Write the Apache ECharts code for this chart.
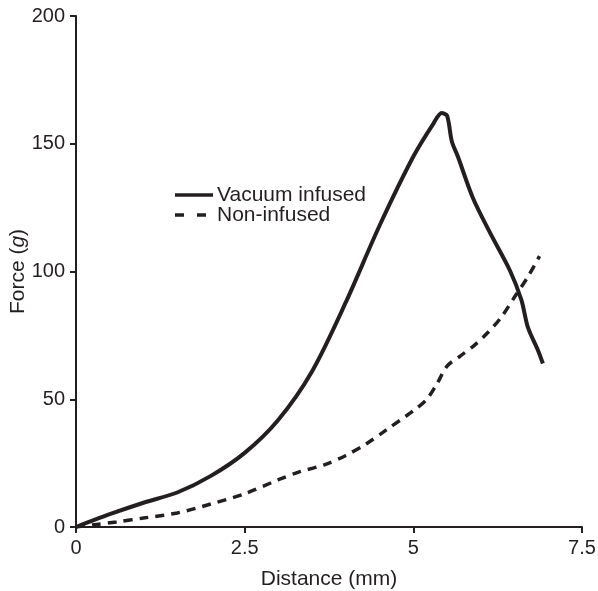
<!DOCTYPE html>
<html>
<head>
<meta charset="utf-8">
<script src="https://cdn.jsdelivr.net/npm/echarts@6/dist/echarts.min.js"></script>
<style>html,body{margin:0;padding:0;background:#fff}#c{width:598px;height:591px}</style>
</head>
<body>
<div id="c"></div>
<script>
const xTicks = [0, 2.5, 5, 7.5];
const yTicks = [0, 50, 100, 150, 200];
const seriesNames = ['Vacuum infused', 'Non-infused'];
const vacuumX = [0, 0.5, 1, 1.5, 2, 2.5, 3, 3.5, 4, 4.5, 5, 5.3, 5.42, 5.5, 5.57, 5.66, 5.88, 6.14, 6.43, 6.6, 6.7, 6.85, 6.92];
const vacuumY = [0, 5, 9.5, 13.5, 20, 29, 42, 61, 88, 118, 145, 158, 162, 161, 151, 145, 129, 115, 100.5, 89, 78, 69, 64];
const nonX = [0, 0.3, 0.6, 1, 1.5, 2, 2.5, 3, 3.3, 3.7, 4, 4.3, 4.6, 5, 5.2, 5.35, 5.5, 5.7, 5.9, 6.1, 6.3, 6.5, 6.7, 6.87];
const nonY = [0, 1, 2, 3.5, 5.5, 9, 13, 18.5, 21.5, 24.5, 28, 32.5, 38, 45.5, 50, 56, 63, 67, 71, 76, 82, 90, 98, 106];

const ink = '#231f20';
const font = 'Liberation Sans, Arial, sans-serif';
const fs = 20;
const fsName = 21;
const chart = echarts.init(document.getElementById('c'), null, {renderer: 'canvas'});
chart.setOption({
  animation: false,
  backgroundColor: '#fff',
  grid: {left: 76, top: 16, right: 16, bottom: 64, containLabel: false, outerBoundsMode: 'none'},
  graphic: [
    {type: 'line', shape: {x1: 175, y1: 195, x2: 213, y2: 195}, style: {stroke: ink, lineWidth: 3.5}},
    {type: 'text', left: 217, top: 185, style: {text: seriesNames[0], fontSize: fsName, fill: ink, fontFamily: font}},
    {type: 'line', shape: {x1: 175, y1: 215, x2: 213, y2: 215}, style: {stroke: ink, lineWidth: 3.5, lineDash: [9, 13]}},
    {type: 'text', left: 217, top: 205, style: {text: seriesNames[1], fontSize: fsName, fill: ink, fontFamily: font}}
  ],
  xAxis: {
    type: 'value', min: 0, max: 7.5, interval: 2.5,
    name: 'Distance (mm)', nameLocation: 'middle', nameGap: 42,
    nameTextStyle: {fontSize: fsName, color: ink, fontFamily: font},
    axisLine: {lineStyle: {color: ink, width: 2}},
    axisTick: {show: true, length: 6, lineStyle: {color: ink, width: 2}},
    axisLabel: {fontSize: fs, color: ink, fontFamily: font, margin: 11,
      formatter: v => xTicks.includes(v) ? String(v) : ''},
    splitLine: {show: false}
  },
  yAxis: {
    type: 'value', min: 0, max: 200, interval: 50,
    name: 'Force ({i|g})', nameLocation: 'middle', nameGap: 47, nameRotate: 90,
    nameMoveOverlap: false,
    nameTextStyle: {fontSize: fsName, color: ink, fontFamily: font,
      rich: {i: {fontStyle: 'italic', fontSize: fsName, color: ink, fontFamily: font}}},
    axisLine: {show: true, lineStyle: {color: ink, width: 2}},
    axisTick: {show: true, length: 6, lineStyle: {color: ink, width: 2}},
    axisLabel: {fontSize: fs, color: ink, fontFamily: font, margin: 11,
      formatter: v => yTicks.includes(v) ? String(v) : ''},
    splitLine: {show: false}
  },
  series: [
    {
      name: seriesNames[0], type: 'line', symbol: 'none', smooth: 0.3,
      lineStyle: {color: ink, width: 4},
      data: vacuumX.map((x, i) => [x, vacuumY[i]])
    },
    {
      name: seriesNames[1], type: 'line', symbol: 'none', smooth: 0.3,
      lineStyle: {color: ink, width: 3.5, type: [9, 7]},
      data: nonX.map((x, i) => [x, nonY[i]])
    }
  ]
});
</script>
</body>
</html>
